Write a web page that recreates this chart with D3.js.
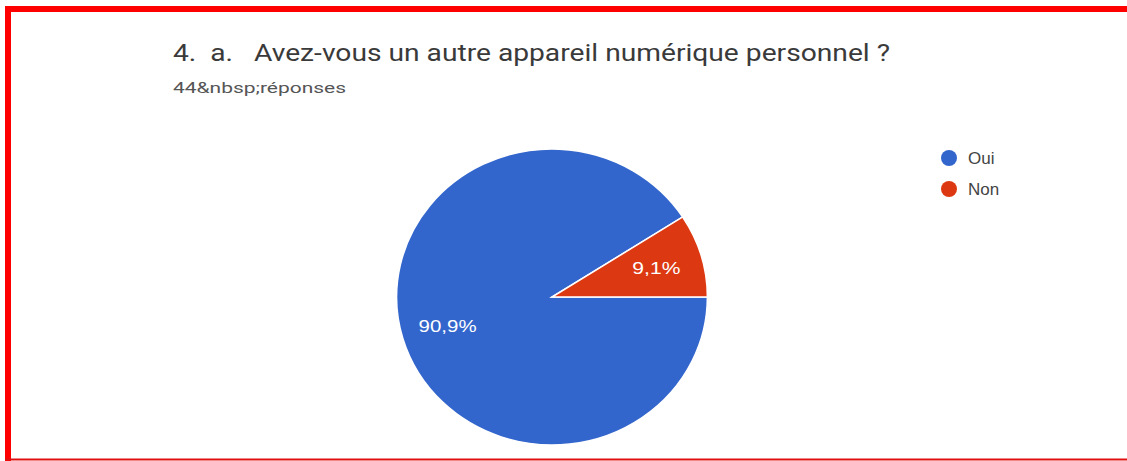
<!DOCTYPE html>
<html>
<head>
<meta charset="utf-8">
<script src="https://cdn.jsdelivr.net/npm/d3@7"></script>
<style>
  html, body { margin: 0; padding: 0; background: #fff; }
  svg { display: block; }
  text { font-family: Roboto, "Noto Sans", Arial, sans-serif; }
  .chartfont { font-family: "Liberation Sans", Arial, sans-serif; }
</style>
</head>
<body>
<svg id="chart" width="1127" height="461"></svg>
<script>
const categories = ["Oui", "Non"];
const values = [40, 4];
const percentLabels = ["90,9%", "9,1%"];
const colors = ["#3366cc", "#dc3912"];
const titleText = "4.  a.   Avez-vous un autre appareil numérique personnel ?";
const subtitleText = "44&nbsp;réponses";

const svg = d3.select("#chart");

// red frame (top, left, bottom)
svg.append("rect").attr("x", 5).attr("y", 6).attr("width", 1122).attr("height", 6).attr("fill", "#ff0000");
svg.append("rect").attr("x", 5).attr("y", 6).attr("width", 6).attr("height", 455).attr("fill", "#ff0000");
svg.append("rect").attr("x", 5).attr("y", 458.5).attr("width", 1122).attr("height", 2).attr("fill", "#e01010");

function fitWidth(sel, w) {
  sel.attr("textLength", w).attr("lengthAdjust", "spacingAndGlyphs");
}

const title = svg.append("text")
  .attr("x", 173).attr("y", 60.5)
  .attr("font-size", 23.5)
  .attr("fill", "#3a3a3a")
  .style("white-space", "pre")
  .text(titleText);
fitWidth(title, 717);

const subtitle = svg.append("text")
  .attr("x", 173).attr("y", 92.5)
  .attr("font-size", 15.5)
  .attr("fill", "#555")
  .text(subtitleText);
fitWidth(subtitle, 173);

// pie
const cx = 552, cy = 297, r = 148, sx = 1.05;
const pie = d3.pie().sort(null).startAngle(Math.PI / 2).endAngle(Math.PI / 2 + 2 * Math.PI);
const arcs = pie(values);
const arc = d3.arc().innerRadius(0).outerRadius(r);
const labelArc = d3.arc().innerRadius(r * 0.7).outerRadius(r * 0.7);

const g = svg.append("g").attr("transform", `translate(${cx},${cy}) scale(${sx},1)`);
g.selectAll("path").data(arcs).join("path")
  .attr("d", arc)
  .attr("fill", (d, i) => colors[i])
  .attr("stroke", "#ffffff")
  .attr("stroke-width", 1.5);

const labelWidths = [58, 48];
svg.selectAll("text.lbl").data(arcs).join("text")
  .attr("class", "lbl chartfont")
  .attr("x", d => cx + labelArc.centroid(d)[0] * sx)
  .attr("y", d => cy + labelArc.centroid(d)[1] + 6)
  .attr("text-anchor", "middle")
  .attr("font-size", 16.5)
  .attr("fill", "#ffffff")
  .attr("textLength", (d, i) => labelWidths[i])
  .attr("lengthAdjust", "spacingAndGlyphs")
  .text((d, i) => percentLabels[i]);

// legend
const legend = svg.append("g").attr("transform", "translate(949,158)");
const items = legend.selectAll("g").data(categories).join("g")
  .attr("transform", (d, i) => `translate(0,${i * 31})`);
items.append("circle").attr("r", 8).attr("fill", (d, i) => colors[i]);
items.append("text").attr("class", "chartfont").attr("x", 19).attr("y", 6)
  .attr("font-size", 17).attr("fill", "#444")
  .text(d => d);
</script>
</body>
</html>
